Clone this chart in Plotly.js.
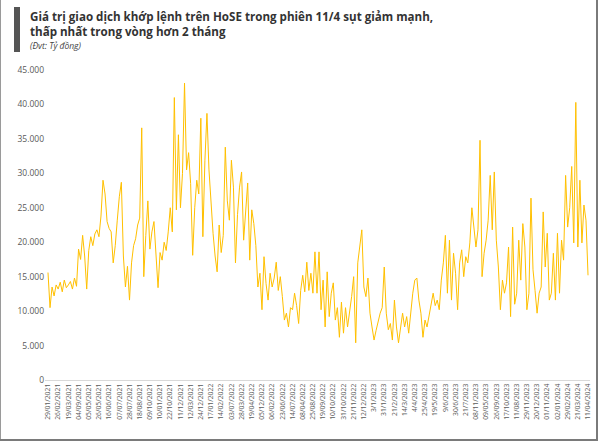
<!DOCTYPE html>
<html>
<head>
<meta charset="utf-8">
<script src="https://cdn.plot.ly/plotly-3.0.1.min.js"></script>
<style>
  html, body { margin: 0; padding: 0; background: #fff; }
  #wrap { position: relative; width: 600px; height: 443px; overflow: hidden; }
  #chart { width: 600px; height: 443px; }
  .bl { position: absolute; left: 0; top: 0; width: 1px; height: 441px; background: #9a9a9a; }
  .br { position: absolute; left: 596px; top: 0; width: 2px; height: 441px; background: #7a7a7a; }
  .bb { position: absolute; left: 0; top: 439px; width: 598px; height: 2px; background: #7a7a7a; }
</style>
</head>
<body>
<div id="wrap">
  <div id="chart"></div>
  <div class="bl"></div><div class="br"></div><div class="bb"></div>
</div>
<script>
// Tick labels (every 15th session) as printed on the chart
const tickLabels = [
  "29/01/2021","26/02/2021","19/03/2021","04/09/2021","05/05/2021","26/05/2021",
  "16/06/2021","07/07/2021","28/07/2021","18/08/2021","09/10/2021","10/01/2021",
  "22/10/2021","11/12/2021","12/03/2021","24/12/2021","17/01/2022","14/02/2022",
  "03/07/2022","28/03/2022","19/04/2022","05/12/2022","06/02/2022","23/06/2022",
  "14/07/2022","08/04/2022","25/08/2022","19/09/2022","10/10/2022","31/10/2022",
  "21/11/2022","12/12/2022","3/1/2023","31/1/2023","21/2/2023","14/3/2023",
  "4/4/2023","25/4/2023","19/5/2023","9/6/2023","30/6/2023","21/7/2023",
  "08/11/2023","09/05/2023","26/09/2023","17/10/2023","11/08/2023","29/11/2023",
  "20/12/2023","01/11/2024","02/01/2024","29/02/2024","21/03/2024","11/04/2024"
];

// Matched-order trading value (billion VND), one reading every 3 sessions
const valuesA = [
  15600,10500,13500,12200,13800, 13200,14200,12800,14500,13400,
  13800,14300,13200,14800,13600, 19000,17500,21000,18000,13200,
  18800,20800,19500,21200,21800, 20800,23800,29000,27000,23000,
  22000,21500,17000,19500,23200, 26600,28700,18000,13500,16500,
  11600,17000,19500,20500,22500, 23500,36600,15000,21000,26000,
  19000,21500,23000,18000,13400, 18500,17400,20000,18800,21500,
  25000,21500,41000,24700,35600
];
const valuesB = [
  25000,30000,43100,30500,33000, 28500,18100,25000,29000,27000,
  38000,20800,31900,38700,30500, 25000,21300,18000,15700,22500,
  18500,21000,33800,26000,23200, 31900,28000,17000,24000,28000,
  30200,20300,24500,28600,17400, 24700,22700,19500,13500,15500,
  10200,17900,14000,11600,15500, 13500,14800,17100,13000,15000,
  12100,8700,9700,7700,10500,    10200,12600,10800,8200,13000
];
const valuesC = [
  15200,12800,17100,13000,15500, 12600,18600,12600,18600,10200,
  14500,7700,15700,9200,12600,   14100,8700,10500,6200,11300,
  6800,10500,7700,9700,12100,    15000,5400,17000,19900,21800,
  13500,12100,14800,9700,7700,   5800,7200,8700,9700,10500,
  16400,9700,7300,8200,5800,     11600,7700,5400,7300,9700,
  7700,9200,6800,10000,12600,    14500,14800,11600,9700,6200,
  8700,7700,9200,11000,12600,    10800,11600,10200,14500,17000
];
const valuesD = [
  21000,12600,20300,11600,18400, 15500,10200,17000,18900,15000,
  17900,17000,19900,25000,22200, 19300,21800,34800,15000,18400,
  20300,23200,29700,21800,30200, 20300,16400,10200,14500,12600,
  14100,19300,9200,22200,11000,  12600,20300,14500,22700,19300,
  10200,12600,26400,16000,13000, 9700,12600,13500,24400,16400,
  21300,11600,12600,18400,11600, 21300,12600,20300,17400,29700,
  22200,25000,31000,19900,40300, 19300,29000,19900,25400,23200,
  15200
];

const values = valuesA.concat(valuesB, valuesC, valuesD);
const STEP = 3;            // sessions between readings
const LABEL_EVERY = 15;    // sessions between tick labels
const xs = values.map((_, i) => i * STEP);
const tickVals = tickLabels.map((_, i) => i * LABEL_EVERY);

const trace = {
  x: xs, y: values, type: 'scatter', mode: 'lines',
  line: { color: '#FFC000', width: 1 },
  hoverinfo: 'skip'
};

const L = 45, W = 545, T = 70, H = 310;
const px = v => (v - L) / W;
const py = v => (T + H - v) / H;

const layout = {
  width: 600, height: 443,
  margin: { l: L, r: 600 - L - W, t: T, b: 443 - T - H },
  paper_bgcolor: '#ffffff', plot_bgcolor: '#ffffff',
  separators: ',.',
  showlegend: false,
  font: { family: 'Open Sans, sans-serif', color: '#595959' },
  xaxis: {
    range: [-4.4, 797.9], tickmode: 'array', tickvals: tickVals, ticktext: tickLabels,
    tickangle: -90, tickfont: { size: 6.8, color: '#595959' },
    showgrid: false, zeroline: false, showline: true, linecolor: '#d9d9d9', linewidth: 1,
    ticks: '', fixedrange: true
  },
  yaxis: {
    range: [0, 45000], tickvals: [0,5000,10000,15000,20000,25000,30000,35000,40000,45000],
    tickformat: ',d', tickfont: { size: 8.5, color: '#595959' },
    showgrid: false, zeroline: false, showline: false, ticks: '', fixedrange: true
  },
  shapes: [
    { type: 'rect', xref: 'paper', yref: 'paper', x0: px(14), x1: px(20), y0: py(52), y1: py(7),
      fillcolor: '#555555', line: { width: 0 } }
  ],
  annotations: [
    { xref: 'paper', yref: 'paper', x: px(29), y: py(23.5), xanchor: 'left', yanchor: 'middle',
      align: 'left',
      text: '<b>Giá trị giao dịch khớp lệnh trên HoSE trong phiên 11/4 sụt giảm mạnh,</b><br><b>thấp nhất trong vòng hơn 2 tháng</b>',
      showarrow: false, borderpad: 0, font: { size: 11.6, color: '#333333' } },
    { xref: 'paper', yref: 'paper', x: px(29), y: py(45), xanchor: 'left', yanchor: 'middle',
      text: '<i>(Đvt: Tỷ đồng)</i>',
      showarrow: false, borderpad: 0, font: { size: 8.5, color: '#444444' } }
  ]
};

Plotly.newPlot('chart', [trace], layout, { displayModeBar: false, staticPlot: true });
</script>
</body>
</html>
